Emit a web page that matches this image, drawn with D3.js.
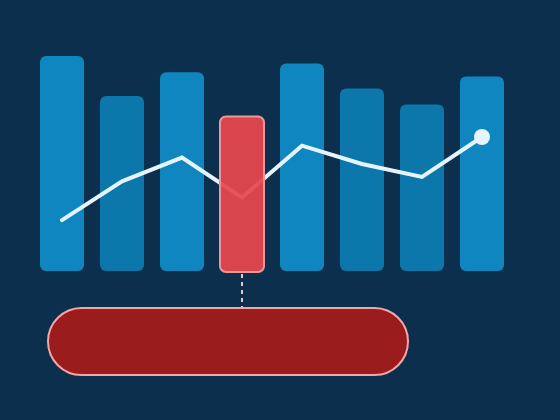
<!DOCTYPE html>
<html>
<head>
<meta charset="utf-8">
<script src="https://cdn.jsdelivr.net/npm/d3@7"></script>
<style>
  html, body { margin: 0; padding: 0; background: #0b2f4d; }
  svg { display: block; }
</style>
</head>
<body>
<svg id="canvas" width="560" height="420"></svg>
<script>
// data
const categories = ['A', 'B', 'C', 'D', 'E', 'F', 'G', 'H'];
const barValues = [100, 81.5, 92.5, 72, 96.5, 85, 77.5, 90.5];
const lineValues = [24, 42, 53, 34.5, 58.5, 50, 44, 62.5];
const highlightIndex = 3;

const width = 560;
const height = 420;

let canvas = d3.select('#canvas');

canvas.append('rect')
      .attr('width', width)
      .attr('height', height)
      .attr('fill', '#0b2f4d');

const xScale = d3.scaleBand()
                 .domain(categories)
                 .range([32, 512])
                 .paddingInner(16 / 60)
                 .paddingOuter(8 / 60);

const yScale = d3.scaleLinear()
                 .domain([0, 100])
                 .range([272, 56]);

const barColor = (i) => {
    if (i === highlightIndex) return '#e04a50';
    return barValues[i] > 88 ? '#0f86bf' : '#0c77aa';
};

// normal bars
canvas.selectAll('rect.bar')
      .data(categories.filter((d, i) => i !== highlightIndex))
      .enter()
      .append('rect')
      .attr('class', 'bar')
      .attr('x', (d) => xScale(d))
      .attr('y', (d) => yScale(barValues[categories.indexOf(d)]))
      .attr('width', xScale.bandwidth())
      .attr('height', (d) => yScale(0) - yScale(barValues[categories.indexOf(d)]) - 1)
      .attr('rx', 6)
      .attr('fill', (d) => barColor(categories.indexOf(d)));

// line
const line = d3.line()
               .x((d, i) => xScale(categories[i]) + xScale.bandwidth() / 2)
               .y((d) => yScale(d));

canvas.append('path')
      .datum(lineValues)
      .attr('d', line)
      .attr('fill', 'none')
      .attr('stroke', '#e6f4ff')
      .attr('stroke-width', 4)
      .attr('stroke-linejoin', 'miter')
      .attr('stroke-linecap', 'round');

const last = lineValues.length - 1;
canvas.append('circle')
      .attr('cx', xScale(categories[last]) + xScale.bandwidth() / 2)
      .attr('cy', yScale(lineValues[last]))
      .attr('r', 8)
      .attr('fill', '#e6f4ff');

// highlighted bar on top of the line
const hc = categories[highlightIndex];
canvas.append('rect')
      .attr('x', xScale(hc))
      .attr('y', yScale(barValues[highlightIndex]))
      .attr('width', xScale.bandwidth())
      .attr('height', yScale(0) - yScale(barValues[highlightIndex]))
      .attr('rx', 6)
      .attr('fill', '#e8474d')
      .attr('fill-opacity', 0.93)
      .attr('stroke', '#f0969a')
      .attr('stroke-width', 2);

// dashed connector
const cx = xScale(hc) + xScale.bandwidth() / 2;
canvas.append('line')
      .attr('x1', cx)
      .attr('x2', cx)
      .attr('y1', yScale(0) + 2)
      .attr('y2', 307)
      .attr('stroke', '#e8c4c8')
      .attr('stroke-width', 2)
      .attr('stroke-dasharray', '4 4');

// callout pill
canvas.append('rect')
      .attr('x', 48)
      .attr('y', 308)
      .attr('width', 360)
      .attr('height', 67)
      .attr('rx', 33.5)
      .attr('fill', '#9b1c1d')
      .attr('stroke', '#f4a6a6')
      .attr('stroke-width', 2);
</script>
</body>
</html>
